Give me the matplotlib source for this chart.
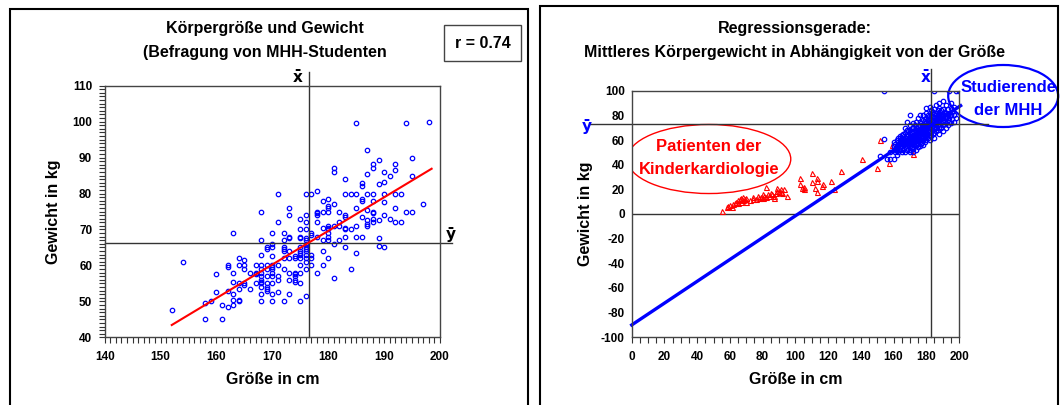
import matplotlib
matplotlib.use("Agg")
import matplotlib.pyplot as plt
from matplotlib.patches import Rectangle, Ellipse
from matplotlib.ticker import MultipleLocator

plt.rcParams['font.family'] = ['Liberation Sans', 'DejaVu Sans']
plt.rcParams['font.weight'] = 'bold'
plt.rcParams['axes.unicode_minus'] = False

# --- linkes Bild: Befragung MHH-Studenten ---
groesse_links = (
    [152, 154, 158, 158, 159, 160, 160, 161, 161]
    + [162] * 4 + [163] * 6 + [164] * 6 + [165] * 5 + [166] * 2 + [167] * 4
    + [168] * 13 + [169] * 9 + [170] * 12 + [171] * 6 + [172] * 8 + [173] * 9
    + [174] * 7 + [175] * 13 + [176] * 15 + [177] * 6 + [178] * 7 + [179] * 6
    + [180] * 11 + [181] * 6 + [182] * 4 + [183] * 8 + [184] * 3 + [185] * 6
    + [186] * 6 + [187] * 7 + [188] * 8 + [189] * 5 + [190] * 6 + [191] * 2
    + [192] * 5 + [193] * 2 + [194] * 2 + [195] * 3 + [197, 198]
)
gewicht_links = [
    47.5, 61, 45, 49.5, 50, 57.6, 52.5, 49, 45,
    60, 59.5, 53, 48.5,
    69, 58, 55.5, 52, 50.5, 49,
    62, 60, 55, 53.5, 50.5, 50,
    61.5, 60, 59, 55, 54.5,
    58, 53.5,
    60, 58, 57.5, 55,
    75, 67, 63, 60, 59, 58, 57, 56, 55.5, 55, 54, 52, 50,
    65, 64.5, 60, 59, 57, 55, 54, 53.5, 53,
    69, 66, 65, 62.5, 60, 59.5, 59, 58, 57, 55, 52, 50,
    80, 72, 60, 57, 56, 52.5,
    69, 67, 65, 64.5, 64, 62, 59, 50,
    76, 74, 68, 67.5, 64, 62, 58, 56, 52,
    62.5, 62, 58, 57.5, 57, 56, 55.5,
    73, 70, 68, 67.5, 65, 64, 63.5, 63, 62, 60, 58, 55, 50,
    80, 74, 72, 70, 67.5, 67, 66, 65, 64.5, 64, 63, 62, 61, 59, 51.5,
    80, 69, 68.5, 63, 62, 60,
    80.6, 75, 74.5, 74, 72, 68, 58,
    78, 75, 70.5, 67, 64, 60,
    78.5, 76.5, 76, 75, 71, 70.5, 70, 69, 68, 67, 62,
    87, 86, 77, 71, 66, 56.6,
    75, 72, 71, 67,
    84, 80, 74, 73.5, 70.5, 70, 68, 65,
    80, 70, 59,
    99.5, 80, 76, 71, 68, 63.5,
    83, 82, 78.4, 78, 73.5, 68,
    92, 85.5, 80, 75.4, 72.5, 71.5, 71,
    88.2, 87, 80, 78, 75, 74.5, 73, 72,
    89.4, 82.6, 72.5, 67.5, 65.5,
    86, 83.2, 80, 77.7, 74, 65,
    85, 73,
    88.2, 86.5, 80, 76, 72,
    80, 72,
    99.5, 75,
    90, 85, 75,
    77, 100,
]
mittel_x_links = 176.5
mittel_y_links = 66.3
steigung_links = 0.935
achsenabschnitt_links = -98.7
bereich_links = [152, 198.5]

# --- rechtes Bild: Studierende + Kinderkardiologie ---
groesse_stud = (
    [152, 154, 154, 156, 158, 158] + [160] * 4 + [161] * 3 + [162] * 4 + [163] * 4
    + [164] * 5 + [165] * 6 + [166] * 5 + [167] * 7 + [168] * 8 + [169] * 6
    + [170] * 10 + [171] * 6 + [172] * 9 + [173] * 7 + [174] * 8 + [175] * 8
    + [176] * 9 + [177] * 7 + [178] * 9 + [179] * 7 + [180] * 10 + [181] * 7
    + [182] * 9 + [183] * 8 + [184] * 7 + [185] * 9 + [186] * 7 + [187] * 6
    + [188] * 8 + [189] * 5 + [190] * 7 + [191] * 4 + [192] * 5 + [193] * 4
    + [194] * 4 + [195] * 4 + [196] * 2 + [197] * 3 + [198] * 2 + [200]
)
gewicht_stud = [
    47, 61, 100, 45, 45, 50,
    45, 52, 55, 58,
    50, 53, 57,
    48, 55, 60, 52,
    50, 56, 58, 62,
    52, 54, 57, 60, 63,
    50, 55, 58, 60, 62, 64,
    52, 56, 58, 61, 65,
    50, 54, 57, 59, 62, 66, 70,
    52, 55, 58, 60, 63, 65, 68, 75,
    53, 56, 58, 61, 64, 67,
    50, 52, 55, 57, 60, 62, 65, 68, 72, 80,
    54, 57, 60, 63, 66, 70,
    50, 53, 56, 58, 61, 64, 67, 70, 74,
    55, 58, 60, 62, 65, 68, 72,
    52, 56, 59, 62, 64, 67, 70, 75,
    54, 57, 60, 63, 66, 68, 71, 78,
    55, 58, 61, 64, 66, 69, 72, 75, 80,
    57, 60, 63, 65, 68, 70, 74,
    56, 60, 62, 65, 67, 70, 72, 76, 80,
    58, 62, 65, 68, 71, 74, 77,
    60, 63, 66, 68, 70, 72, 75, 78, 82, 86,
    62, 65, 68, 71, 74, 77, 80,
    60, 64, 67, 70, 72, 75, 78, 82, 87,
    63, 66, 69, 72, 74, 77, 80, 84,
    65, 68, 71, 73, 76, 79, 83,
    62, 66, 70, 73, 75, 78, 81, 85, 100,
    67, 70, 73, 76, 79, 82, 88,
    68, 72, 75, 78, 80, 84,
    65, 70, 73, 76, 79, 82, 86, 90,
    70, 74, 77, 80, 84,
    67, 72, 75, 78, 81, 85, 92,
    73, 76, 80, 83,
    70, 74, 78, 82, 88,
    72, 76, 80, 85,
    75, 78, 82, 100,
    74, 80, 86, 90,
    77, 83,
    75, 80, 87,
    78, 100,
    100,
]
groesse_kinder = [
    55.4, 58, 59, 60, 61, 62, 63, 64, 65, 65, 66, 67, 67, 68, 68, 69, 70, 70,
    72, 74, 74, 76, 77, 78, 79, 80, 80, 81, 82, 82, 83, 84, 85, 86, 87, 87,
    88, 89, 89, 90, 91, 91, 92, 93, 95,
    103, 103, 104, 105, 105, 110, 110, 113, 113, 112, 113, 117, 116, 122, 123.5,
    128, 141, 150, 152, 157.5, 159, 172,
]
gewicht_kinder = [
    2.7, 6, 6.5, 7, 6, 8, 9, 10, 9, 11, 12, 10, 13, 11, 14, 12, 10, 13,
    11, 12, 14, 12, 15, 13, 14, 13, 16, 15, 14, 22, 16, 15, 17, 16, 15, 13,
    17, 19, 21, 18, 20, 18, 17, 20, 15,
    29, 24, 21, 20, 22, 33, 25.6, 29, 27, 21, 18, 24, 23, 26.4, 20.3,
    34.5, 44.6, 37, 60, 41.6, 55.7, 48.6,
]
mittel_x_rechts = 183
mittel_y_rechts = 73.2
steigung_rechts = 0.885
achsenabschnitt_rechts = -90
bereich_rechts = [0, 201]

W, H = 1061, 405
fig = plt.figure(figsize=(W / 100, H / 100), dpi=100)


def fx(px):
    return px / W


def fy(py):
    return 1 - py / H


# Rahmen der beiden Bilder
fig.patches.append(Rectangle((fx(10), -0.1), fx(528) - fx(10), fy(9.5) + 0.1,
                             transform=fig.transFigure, fill=False, lw=1.5, ec='black'))
fig.patches.append(Rectangle((fx(540), -0.1), fx(1058) - fx(540), fy(6) + 0.1,
                             transform=fig.transFigure, fill=False, lw=1.5, ec='black'))

achsenfarbe = '#444444'
linienfarbe = '#333333'


def style_axes(ax):
    for s in ax.spines.values():
        s.set_color(achsenfarbe)
        s.set_linewidth(1.0)
    ax.tick_params(which='both', direction='out', color=linienfarbe, width=0.8,
                   labelsize=8.5)
    for lab in ax.get_xticklabels() + ax.get_yticklabels():
        lab.set_fontweight('bold')


# ---------- links ----------
ax1 = fig.add_axes([fx(104.7), fy(337.3), fx(440) - fx(104.7), fy(85.7) - fy(337.3)])
ax1.set_xlim(140, 200)
ax1.set_ylim(40, 110)
ax1.xaxis.set_major_locator(MultipleLocator(10))
ax1.xaxis.set_minor_locator(MultipleLocator(1))
ax1.yaxis.set_major_locator(MultipleLocator(10))
ax1.yaxis.set_minor_locator(MultipleLocator(1))
ax1.tick_params(which='both', length=4)
ax1.tick_params(axis='x', pad=6)
ax1.tick_params(axis='y', pad=5)
style_axes(ax1)

ax1.plot(groesse_links, gewicht_links, 'o', ms=3.2, mfc='none', mec='#0000ff', mew=0.9)
ax1.plot([mittel_x_links, mittel_x_links], [40, 113.8], color=linienfarbe, lw=1.0, clip_on=False)
ax1.plot([140, 202.2], [mittel_y_links, mittel_y_links], color=linienfarbe, lw=1.0, clip_on=False)
ax1.plot(bereich_links, [steigung_links * x + achsenabschnitt_links for x in bereich_links],
         color='#ff0000', lw=1.5)

ax1.set_xlabel('Größe in cm', fontsize=11.5, fontweight='bold', labelpad=6)
ax1.set_ylabel('Gewicht in kg', fontsize=11.5, fontweight='bold', labelpad=8)

fig.text(fx(265), fy(29), 'Körpergröße und Gewicht', ha='center', va='center',
         fontsize=11.5, fontweight='bold')
fig.text(fx(265), fy(52), '(Befragung von MHH-Studenten', ha='center', va='center',
         fontsize=11.5, fontweight='bold')
fig.text(fx(482.5), fy(43), 'r = 0.74', ha='center', va='center', fontsize=11.5,
         fontweight='bold')
fig.patches.append(Rectangle((fx(444), fy(61)), fx(521) - fx(444), fy(25) - fy(61),
                             transform=fig.transFigure, fill=False, lw=1.0, ec=achsenfarbe))
fig.text(fx(298), fy(77), 'x\u0304', ha='center', va='center', fontsize=11,
         fontweight='bold', family='DejaVu Sans')
fig.text(fx(451), fy(235), '\u0233', ha='center', va='center', fontsize=11,
         fontweight='bold', family='DejaVu Sans')

# ---------- rechts ----------
ax2 = fig.add_axes([fx(631.7), fy(337.3), fx(959) - fx(631.7), fy(90.7) - fy(337.3)])
ax2.set_xlim(0, 200)
ax2.set_ylim(-100, 100)
ax2.xaxis.set_major_locator(MultipleLocator(20))
ax2.xaxis.set_minor_locator(MultipleLocator(5))
ax2.yaxis.set_major_locator(MultipleLocator(20))
ax2.tick_params(axis='x', which='both', length=4, pad=6)
ax2.tick_params(axis='y', length=0, pad=5)
style_axes(ax2)

ax2.axhline(0, color=linienfarbe, lw=1.0)
ax2.plot(groesse_kinder, gewicht_kinder, '^', ms=3.6, mfc='none', mec='#ff0000', mew=0.8)
ax2.plot(groesse_stud, gewicht_stud, 'o', ms=3.2, mfc='none', mec='#0000ff', mew=0.9)
ax2.plot([mittel_x_rechts, mittel_x_rechts], [-100, 117.6], color=linienfarbe, lw=1.0, clip_on=False)
ax2.plot([-25.5, 217.7], [mittel_y_rechts, mittel_y_rechts], color=linienfarbe, lw=1.0, clip_on=False)
ax2.plot(bereich_rechts, [steigung_rechts * x + achsenabschnitt_rechts for x in bereich_rechts],
         color='#0000ff', lw=2.4, clip_on=False)

ax2.add_patch(Ellipse((47.2, 44.6), 100, 56, fill=False, ec='#ff0000', lw=1.0))
ax2.text(47.2, 54.4, 'Patienten der', ha='center', va='center', color='#ff0000',
         fontsize=12, fontweight='bold')
ax2.text(47.2, 35.7, 'Kinderkardiologie', ha='center', va='center', color='#ff0000',
         fontsize=12, fontweight='bold')
ax2.add_patch(Ellipse((227, 95.7), 67.2, 50.3, fill=False, ec='#0000ff', lw=1.6, clip_on=False))
ax2.text(230, 102.4, 'Studierende', ha='center', va='center', color='#0000ff',
         fontsize=12, fontweight='bold', clip_on=False)
ax2.text(230, 84.3, 'der MHH', ha='center', va='center', color='#0000ff',
         fontsize=12, fontweight='bold', clip_on=False)

ax2.set_xlabel('Größe in cm', fontsize=11.5, fontweight='bold', labelpad=6)
ax2.set_ylabel('Gewicht in kg', fontsize=11.5, fontweight='bold', labelpad=6)

fig.text(fx(795), fy(29), 'Regressionsgerade:', ha='center', va='center',
         fontsize=11.5, fontweight='bold')
fig.text(fx(795), fy(52), 'Mittleres Körpergewicht in Abhängigkeit von der Größe',
         ha='center', va='center', fontsize=11.5, fontweight='bold')
fig.text(fx(926), fy(78), 'x\u0304', ha='center', va='center', fontsize=11,
         fontweight='bold', color='#0000ff', family='DejaVu Sans')
fig.text(fx(587), fy(127), '\u0233', ha='center', va='center', fontsize=11,
         fontweight='bold', color='#0000ff', family='DejaVu Sans')

fig.savefig('out.png', dpi=100)
